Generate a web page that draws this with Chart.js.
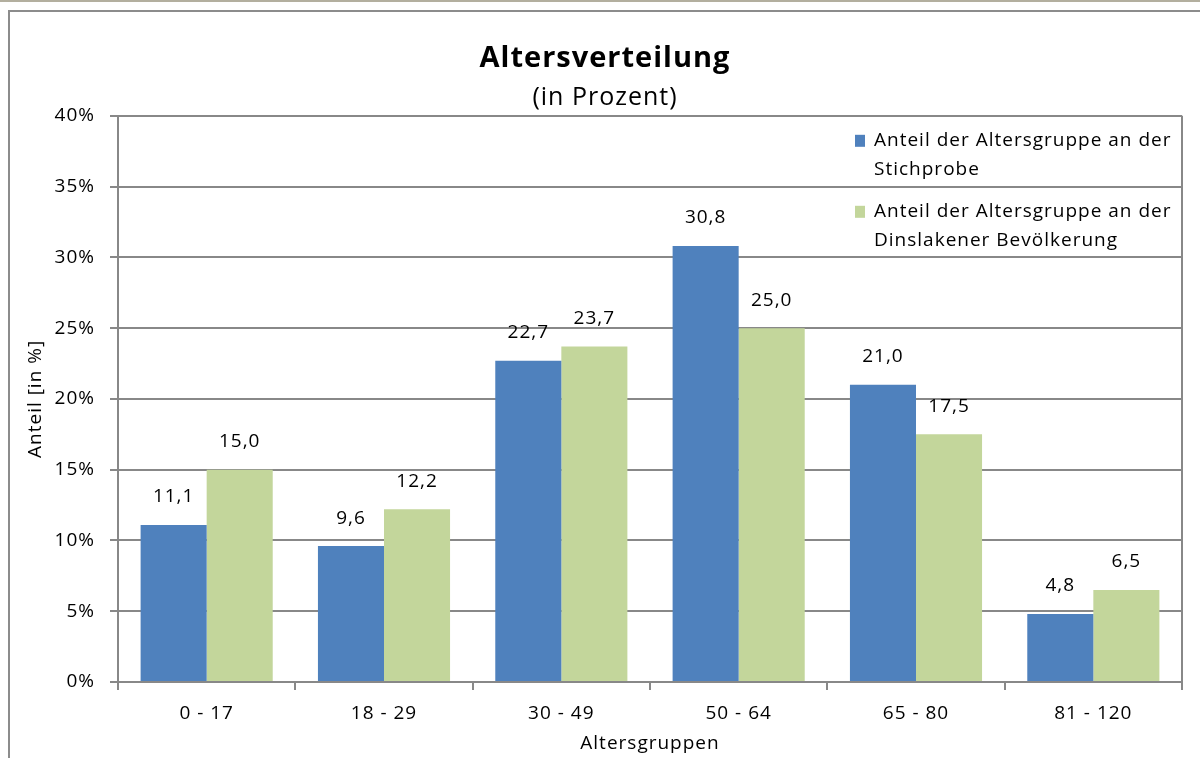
<!DOCTYPE html>
<html>
<head>
<meta charset="utf-8">
<script src="https://cdn.jsdelivr.net/npm/chart.js@4"></script>
<style>
  html, body { margin: 0; padding: 0; background: #fff; }
  #wrap { position: relative; width: 1200px; height: 758px; overflow: hidden; }
  #strip { position: absolute; left: 0; top: 0; width: 1200px; height: 2px; background: #b3af9f; }
  #frame { position: absolute; left: 8px; top: 10px; width: 1300px; height: 900px; border-left: 2px solid #8c8c8c; border-top: 2px solid #8c8c8c; }
  #myChart { position: absolute; left: 0; top: 0; }
</style>
</head>
<body>
<div id="wrap">
  <div id="strip"></div>
  <div id="frame"></div>
  <canvas id="myChart" width="1200" height="758"></canvas>
</div>
<script>
// Altersgruppen
const labels = ['0 - 17', '18 - 29', '30 - 49', '50 - 64', '65 - 80', '81 - 120'];

// Anteile in Prozent
const stichprobe = [11.1, 9.6, 22.7, 30.8, 21.0, 4.8];
const bevoelkerung = [15.0, 12.2, 23.7, 25.0, 17.5, 6.5];

// Legendentexte (zweizeilig)
const legendLines = [
    ['Anteil der Altersgruppe an der', 'Stichprobe'],
    ['Anteil der Altersgruppe an der', 'Dinslakener Bevölkerung']
];

const fontName = '"Open Sans", sans-serif';
const gridColor = '#888888';
const textSize = 19;

// etwas weitere Laufweite wie im Original
const spacing = {
    id: 'spacing',
    beforeUpdate(chart) { chart.ctx.letterSpacing = '1px'; },
    beforeDraw(chart) { chart.ctx.letterSpacing = '1px'; }
};

// Werte über den Balken
const valueLabels = {
    id: 'valueLabels',
    afterDatasetsDraw(chart) {
        const ctx = chart.ctx;
        ctx.save();
        ctx.font = textSize + 'px ' + fontName;
        ctx.fillStyle = '#000';
        ctx.textAlign = 'center';
        ctx.textBaseline = 'middle';
        chart.data.datasets.forEach((ds, i) => {
            chart.getDatasetMeta(i).data.forEach((bar, j) => {
                const txt = ds.data[j].toFixed(1).replace('.', ',');
                ctx.fillText(txt, bar.x, bar.y - 28);
            });
        });
        ctx.restore();
    }
};

// Rahmen rechts und Legende im Diagramm
const plotExtras = {
    id: 'plotExtras',
    afterDraw(chart) {
        const ctx = chart.ctx;
        const a = chart.chartArea;
        ctx.save();
        ctx.strokeStyle = gridColor;
        ctx.lineWidth = 2;
        ctx.beginPath();
        ctx.moveTo(a.right, a.top);
        ctx.lineTo(a.right, a.bottom);
        ctx.stroke();

        ctx.font = textSize + 'px ' + fontName;
        ctx.textBaseline = 'middle';
        ctx.textAlign = 'left';
        chart.data.datasets.forEach((ds, i) => {
            const y0 = a.top + 25 + i * 71;
            const x0 = a.right - 327;
            ctx.fillStyle = ds.backgroundColor;
            ctx.fillRect(x0, y0 - 6, 10, 12);
            ctx.fillStyle = '#000';
            legendLines[i].forEach((line, k) => {
                ctx.fillText(line, x0 + 19, y0 + k * 29);
            });
        });
        ctx.restore();
    }
};

const data = {
    labels: labels,
    datasets: [{
        label: legendLines[0].join(' '),
        data: stichprobe,
        backgroundColor: '#4f81bd'
    }, {
        label: legendLines[1].join(' '),
        data: bevoelkerung,
        backgroundColor: '#c3d69b'
    }]
};

const config = {
    type: 'bar',
    data: data,
    plugins: [spacing, valueLabels, plotExtras],
    options: {
        responsive: false,
        animation: false,
        categoryPercentage: 0.745,
        barPercentage: 1.0,
        layout: {
            padding: { left: 10, right: 0, top: 0, bottom: 0 }
        },
        plugins: {
            legend: { display: false },
            tooltip: { enabled: false },
            title: {
                display: true,
                text: 'Altersverteilung',
                color: '#000',
                font: { family: fontName, size: 29, weight: 'bold' },
                padding: { top: 41, bottom: 0 }
            },
            subtitle: {
                display: true,
                text: '(in Prozent)',
                color: '#000',
                font: { family: fontName, size: 25 },
                padding: { top: 7, bottom: 3 }
            }
        },
        scales: {
            x: {
                offset: true,
                grid: {
                    offset: true,
                    drawOnChartArea: false,
                    drawTicks: true,
                    tickLength: 8,
                    color: gridColor,
                    lineWidth: 2
                },
                border: { color: gridColor, width: 2 },
                ticks: {
                    color: '#000',
                    padding: 12,
                    font: { family: fontName, size: textSize }
                },
                title: {
                    display: true,
                    text: 'Altersgruppen',
                    color: '#000',
                    font: { family: fontName, size: textSize },
                    padding: { top: 0, bottom: 3 }
                },
                afterFit(scale) { scale.height = 76; }
            },
            y: {
                min: 0,
                max: 40,
                ticks: {
                    stepSize: 5,
                    color: '#000',
                    padding: 15,
                    font: { family: fontName, size: textSize },
                    callback: v => v + '%'
                },
                grid: {
                    color: gridColor,
                    lineWidth: 2,
                    tickLength: 8
                },
                border: { color: gridColor, width: 2 },
                title: {
                    display: true,
                    text: 'Anteil [in %]',
                    color: '#000',
                    font: { family: fontName, size: textSize },
                    padding: { top: 14, bottom: 0 }
                },
                afterFit(scale) { scale.width = 108; }
            },
            // leerer Rand rechts, damit der Titel mittig über dem Rahmen steht
            rand: {
                type: 'linear',
                position: 'right',
                grid: { display: false },
                border: { display: false },
                ticks: { display: false },
                afterFit(scale) { scale.width = 18; }
            }
        }
    }
};

const myChart = new Chart(document.getElementById('myChart'), config);
</script>
</body>
</html>
